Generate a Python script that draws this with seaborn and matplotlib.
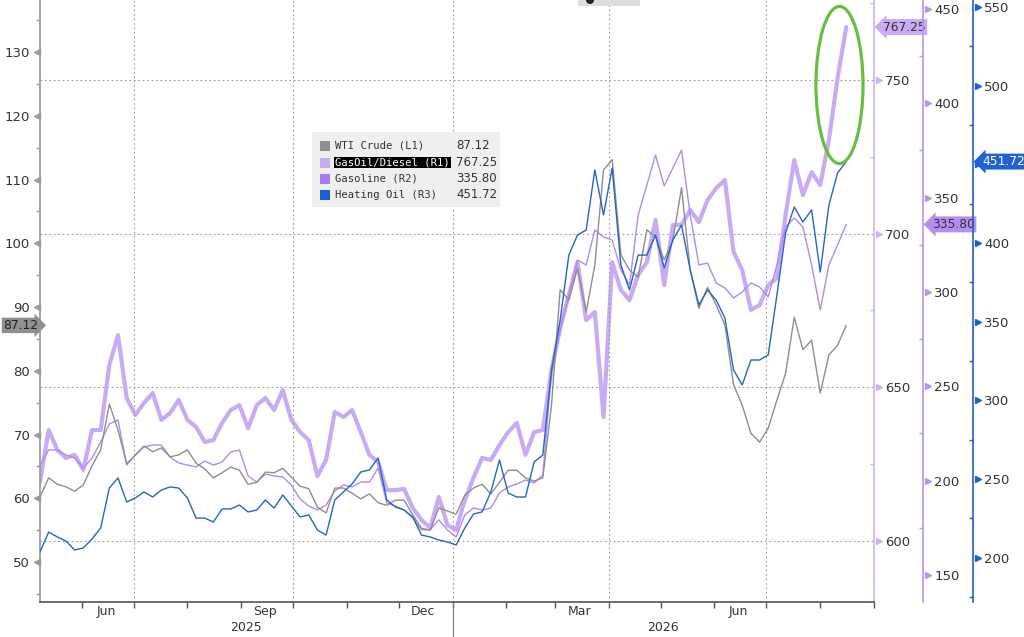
import matplotlib
matplotlib.use("Agg")
import matplotlib.pyplot as plt
import matplotlib.dates as mdates
import matplotlib.transforms as mtransforms
from matplotlib.patches import Ellipse, Rectangle
from matplotlib.ticker import MultipleLocator, NullFormatter, FuncFormatter
import pandas as pd
import seaborn as sns

# %% values, one point every 5 days from 8 May 2025
dates = pd.date_range("2025-05-08", periods=94, freq="5D")

wti_crude = [60.2, 63.2, 62.2, 61.8, 61.1, 62.1, 65.1, 67.6, 74.8, 70.7,
             65.4, 66.8, 68.2, 67.3, 67.9, 66.5, 66.8, 67.6, 65.5, 64.6,
             63.2, 64.0, 64.9, 64.4, 62.2, 62.5, 64.1, 64.0, 64.7, 63.3,
             61.9, 61.5, 58.6, 57.7, 61.6, 61.6, 60.8, 59.9, 60.7, 59.3,
             58.9, 59.7, 59.7, 57.4, 55.3, 55.0, 58.5, 58.0, 57.5, 60.5,
             61.6, 62.2, 60.7, 62.5, 64.4, 64.4, 63.2, 62.7, 63.2, 74.6,
             92.7, 91.1, 96.1, 89.2, 96.6, 111.5, 113.1, 98.2, 95.8, 94.7,
             102.1, 101.0, 97.4, 100.5, 108.7, 95.8, 89.8, 93.1, 90.3, 87.2,
             77.8, 74.6, 70.2, 68.8, 71.0, 75.4, 79.6, 88.4, 83.3, 84.8,
             76.5, 82.5, 84.0, 87.12]

gasoil_diesel = [619.1, 636.0, 629.5, 626.9, 627.9, 623.0, 636.0, 636.0, 657.2, 666.9,
                 646.4, 640.9, 644.8, 648.0, 639.3, 641.5, 645.8, 639.3, 637.0, 632.1,
                 632.7, 638.3, 642.5, 644.1, 636.6, 644.1, 646.4, 642.5, 649.0, 639.3,
                 635.3, 632.7, 621.0, 626.2, 641.9, 640.2, 642.5, 635.3, 627.9, 625.6,
                 616.4, 616.4, 616.8, 610.6, 606.7, 604.1, 614.2, 605.0, 603.4, 613.2,
                 620.4, 626.9, 626.2, 631.1, 635.3, 638.3, 627.9, 635.3, 636.0, 655.5,
                 669.2, 680.0, 690.7, 671.8, 674.4, 640.2, 690.7, 681.6, 678.3, 686.5,
                 690.7, 704.4, 683.2, 702.8, 702.8, 707.7, 703.7, 710.9, 714.8, 717.4,
                 694.0, 688.1, 675.1, 676.7, 683.2, 685.5, 706.0, 723.9, 712.5, 720.0,
                 715.8, 730.5, 750.7, 767.25]

gasoline = [208.2, 216.2, 216.2, 213.5, 211.9, 206.6, 211.9, 220.4, 230.0, 232.1,
            208.2, 213.5, 217.8, 218.8, 218.8, 212.5, 209.3, 208.2, 207.2, 210.3,
            208.2, 209.8, 215.1, 216.2, 202.4, 199.2, 203.4, 202.4, 201.9, 197.6,
            190.2, 186.5, 184.4, 187.0, 194.4, 197.6, 196.6, 199.2, 199.2, 206.6,
            188.1, 186.5, 184.4, 180.1, 173.8, 173.8, 179.1, 173.8, 170.0, 181.7,
            185.4, 184.4, 185.4, 193.4, 196.6, 198.1, 200.3, 198.7, 202.9, 257.5,
            279.8, 298.4, 316.9, 314.3, 332.8, 329.1, 327.5, 311.6, 303.7, 340.8,
            356.7, 372.6, 356.2, 365.7, 375.2, 340.8, 314.3, 315.3, 304.7, 302.1,
            296.8, 300.0, 304.7, 302.6, 297.3, 314.3, 334.4, 339.2, 334.4, 314.3,
            290.4, 314.3, 324.9, 335.80]

heating_oil = [203.5, 216.2, 213.1, 210.5, 204.8, 206.1, 211.8, 218.8, 244.2, 250.6,
               235.3, 237.9, 241.7, 238.5, 242.9, 244.9, 244.2, 237.9, 225.1, 225.1,
               222.6, 230.9, 230.9, 233.4, 229.0, 230.2, 236.6, 231.5, 239.8, 232.8,
               225.8, 227.1, 217.5, 214.3, 236.6, 241.7, 246.8, 254.4, 255.7, 263.3,
               236.6, 232.1, 230.2, 225.8, 214.3, 213.1, 211.2, 209.9, 208.0, 218.8,
               227.7, 229.0, 241.7, 262.0, 241.0, 238.5, 238.5, 260.8, 265.2, 319.2,
               351.0, 392.3, 405.1, 408.2, 446.4, 417.8, 447.6, 386.0, 370.1, 392.3,
               392.3, 405.1, 384.1, 401.9, 411.4, 382.8, 360.6, 370.1, 363.7, 352.3,
               319.2, 309.7, 325.6, 325.6, 328.8, 366.9, 406.3, 422.9, 413.3, 421.0,
               381.5, 424.1, 444.5, 451.72]

legend_names = ["WTI Crude (L1)", "GasOil/Diesel (R1)", "Gasoline (R2)", "Heating Oil (R3)"]
legend_values = ["87.12", "767.25", "335.80", "451.72"]
month_labels = ["Jun", "Sep", "Dec", "Mar", "Jun"]
month_label_dates = ["2025-06-15", "2025-09-15", "2025-12-15", "2026-03-15", "2026-06-15"]
year_labels = ["2025", "2026"]
year_label_dates = ["2025-09-04", "2026-05-02"]

c_wti = "#8e8e8e"
c_gasoil = "#c8abf5"
c_gasoline = "#b18aef"
c_heat = "#2763c9"
legend_colors = [c_wti, c_gasoil, "#a87cf0", "#1a5fd6"]

# %%
sns.set_theme(style="white")
plt.rcParams["font.family"] = ["DejaVu Sans"]

fig = plt.figure(figsize=(10.24, 6.37), dpi=100)
fig.patch.set_facecolor("white")
ax = fig.add_axes([40 / 1024, 35 / 637, 834 / 1024, 602 / 637])
ax1 = ax.twinx()
ax2 = ax.twinx()
ax3 = ax.twinx()

# draw order: thick gasoil underneath, heating oil on top
ax1.set_zorder(1)
ax2.set_zorder(2)
ax.set_zorder(3)
ax3.set_zorder(4)
for a in (ax, ax1, ax2, ax3):
    a.patch.set_visible(False)

sns.lineplot(x=dates, y=gasoil_diesel, ax=ax1, color=c_gasoil, lw=3.0, legend=False)
sns.lineplot(x=dates, y=gasoline, ax=ax2, color=c_gasoline, lw=1.0, legend=False)
sns.lineplot(x=dates, y=wti_crude, ax=ax, color=c_wti, lw=1.0, legend=False)
sns.lineplot(x=dates, y=heating_oil, ax=ax3, color=c_heat, lw=1.0, legend=False)

for a in (ax, ax1, ax2, ax3):
    a.set_xlabel("")
    a.set_ylabel("")

# %% x axis
ax.set_xlim(pd.Timestamp("2025-05-08"), pd.Timestamp("2026-09-01"))
ax.xaxis.set_major_locator(mdates.MonthLocator(bymonth=[1, 4, 7, 10]))
ax.xaxis.set_minor_locator(mdates.MonthLocator())
ax.xaxis.set_major_formatter(NullFormatter())
ax.xaxis.set_minor_formatter(NullFormatter())
ax.tick_params(axis="x", which="both", direction="out", length=4, width=1, color="#555555", bottom=True)
ax.grid(axis="x", which="major", ls=(0, (1.5, 2.5)), color="#9a9a9a", lw=0.8)
ax.grid(axis="y", visible=False)

xtr = mtransforms.blended_transform_factory(ax.transData, ax.transAxes)
for lab, d in zip(month_labels, month_label_dates):
    ax.text(pd.Timestamp(d), -0.016, lab, transform=xtr, ha="center", va="center",
            fontsize=9, color="#333333", clip_on=False)
for lab, d in zip(year_labels, year_label_dates):
    ax.text(pd.Timestamp(d), -0.042, lab, transform=xtr, ha="center", va="center",
            fontsize=9, color="#333333", clip_on=False)
ax.plot([pd.Timestamp("2026-01-01")] * 2, [0, -0.06], transform=xtr, color="#777777",
        lw=0.8, clip_on=False)

# %% y axes
ax.yaxis.set_major_locator(MultipleLocator(10))
ax.yaxis.set_minor_locator(MultipleLocator(5))
for a in (ax1, ax2, ax3):
    a.yaxis.set_major_locator(MultipleLocator(50))
    a.yaxis.set_minor_locator(MultipleLocator(25))
# the 451.72 tag sits on top of the 450 label
ax3.yaxis.set_major_formatter(FuncFormatter(lambda v, p: "" if abs(v - 450) < 1 else f"{v:.0f}"))

r2_pos = (923 - 40) / 834
r3_pos = (973 - 40) / 834
ax2.spines["right"].set_position(("axes", r2_pos))
ax3.spines["right"].set_position(("axes", r3_pos))

for a in (ax, ax1, ax2, ax3):
    a.spines["top"].set_visible(False)
for a in (ax1, ax2, ax3):
    a.spines["left"].set_visible(False)
    a.spines["bottom"].set_visible(False)
ax.spines["right"].set_visible(False)
ax.spines["left"].set_color("#9a9a9a")
ax.spines["bottom"].set_color("#555555")
ax.spines["bottom"].set_linewidth(1.2)
ax1.spines["right"].set_color("#cdb3f4")
ax2.spines["right"].set_color("#b794ef")
ax3.spines["right"].set_color("#2160c4")
for a in (ax1, ax2, ax3):
    a.spines["right"].set_linewidth(1.2)

ax.tick_params(axis="y", which="major", left=True, length=0, pad=7, labelsize=9.5, labelcolor="#333333")
ax.tick_params(axis="y", which="minor", left=True, direction="out", length=3, width=1, color="#9a9a9a")
for a, col in ((ax1, "#cdb3f4"), (ax2, "#b794ef"), (ax3, "#2160c4")):
    a.tick_params(axis="y", which="major", right=True, length=0, pad=8, labelsize=9.5, labelcolor="#333333")
    a.tick_params(axis="y", which="minor", right=True, direction="in", length=3, width=1, color=col)

ax1.grid(axis="y", which="major", ls=(0, (1.5, 2.5)), color="#9a9a9a", lw=0.8)
ax1.grid(axis="x", visible=False)
ax2.grid(False)
ax3.grid(False)


def tick_arrows(a, xpos, vals, marker, color):
    tr = mtransforms.blended_transform_factory(a.transAxes, a.transData)
    a.plot([xpos] * len(vals), vals, ls="none", marker=marker, ms=5, color=color,
           transform=tr, clip_on=False, zorder=6)


tick_arrows(ax, -0.004, list(range(50, 131, 10)), "<", "#9a9a9a")
tick_arrows(ax1, 1.006, list(range(600, 751, 50)), ">", "#cdb3f4")
tick_arrows(ax2, r2_pos + 0.006, list(range(150, 451, 50)), ">", "#b794ef")
tick_arrows(ax3, r3_pos + 0.006, list(range(200, 551, 50)), ">", "#2160c4")

ax.set_ylim(43.73, 138.16)
ax1.set_ylim(579.97, 776.06)
ax2.set_ylim(135.58, 454.77)
ax3.set_ylim(171.75, 554.45)


# %% last-value tags
def tag(a, xpos, val, text, fc, tc, ha, style):
    tr = mtransforms.blended_transform_factory(a.transAxes, a.transData)
    a.text(xpos, val, text, transform=tr, ha=ha, va="center", fontsize=8.8, color=tc,
           bbox=dict(boxstyle=style, fc=fc, ec="none"), clip_on=False, zorder=10)


tag(ax, (3 - 40) / 834, wti_crude[-1], legend_values[0], "#8f8f8f", "#222222", "left", "rarrow,pad=0.1")
tag(ax1, (883 - 40) / 834, gasoil_diesel[-1], legend_values[1], "#c9acf5", "#333333", "left", "larrow,pad=0.12")
tag(ax2, (932 - 40) / 834, gasoline[-1], legend_values[2], "#b48ef0", "#333333", "left", "larrow,pad=0.12")
tag(ax3, (982 - 40) / 834, heating_oil[-1], legend_values[3], "#1f62d4", "white", "left", "larrow,pad=0.12")

# green ring around the diesel spike
ax3.add_patch(Ellipse((0.9586, 0.8588), 0.0564, 0.261, transform=ax.transAxes,
                      fill=False, ec="#6cbb45", lw=2.3, clip_on=False, zorder=8))

# %% legend box
fig.add_artist(Rectangle((312 / 1024, 1 - 207 / 637), 188 / 1024, 75 / 637,
                         transform=fig.transFigure, fc="#efefef", ec="none", zorder=20))
row_y = [146, 162.5, 179, 195]
for name, val, col, yy in zip(legend_names, legend_values, legend_colors, row_y):
    fy = 1 - yy / 637
    fig.add_artist(Rectangle((320 / 1024, fy - 5 / 637), 10 / 1024, 10 / 637,
                             transform=fig.transFigure, fc=col, ec="none", zorder=21))
    if name.startswith("GasOil"):
        fig.text(335 / 1024, fy, name, ha="left", va="center", fontsize=7.6, color="white",
                 family="DejaVu Sans Mono", zorder=22,
                 bbox=dict(boxstyle="square,pad=0.08", fc="black", ec="none"))
    else:
        fig.text(335 / 1024, fy, name, ha="left", va="center", fontsize=7.6, color="#333333",
                 family="DejaVu Sans Mono", zorder=22)
    fig.text(456 / 1024, fy, val, ha="left", va="center", fontsize=8.5, color="#333333", zorder=22)

# partly hidden note box at the top edge
fig.add_artist(Rectangle((578 / 1024, 1 - 6 / 637), 62 / 1024, 6 / 637,
                         transform=fig.transFigure, fc="#dedede", ec="none", zorder=20))
fig.add_artist(Ellipse((590 / 1024, 1.0), 8 / 1024, 8 / 637, transform=fig.transFigure,
                       fc="#222222", ec="none", zorder=21))

fig.savefig("out.png", dpi=100, facecolor="white")
